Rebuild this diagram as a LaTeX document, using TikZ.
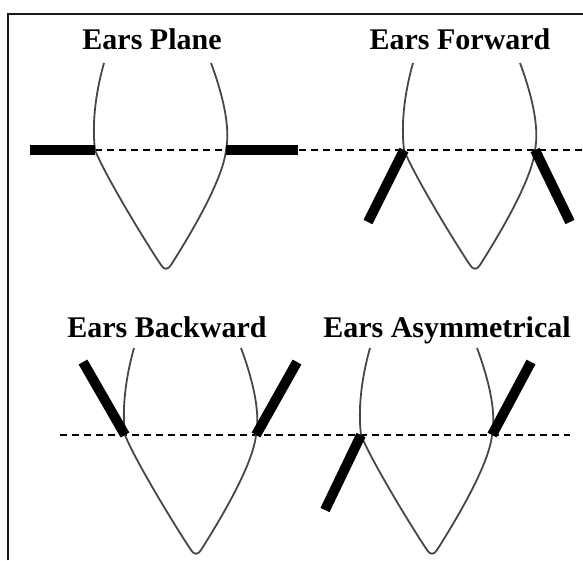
\documentclass[tikz,border=0pt]{standalone}
\usepackage{fontspec}
\setmainfont{Liberation Serif}
\begin{document}
\begin{tikzpicture}[x=1pt,y=-1pt,
  headline/.style={draw=black!72,line width=1.8pt,line join=round},
  ear/.style={line width=10pt,line cap=butt,black},
  midline/.style={line width=1.9pt,black,dash pattern=on 7pt off 5pt},
  frameline/.style={line width=2.2pt,black!90},
  title/.style={font=\bfseries\fontsize{30}{36}\selectfont,anchor=base,inner sep=0pt},
  head/.pic={\draw[headline] (9,-87) .. controls (0,-55) and (-3,-25) .. (0,0)
     .. controls (10,25) and (48,88) .. (66,115)
     .. controls (69,120) and (73,120) .. (76,115)
     .. controls (95,85) and (128,30) .. (131,0)
     .. controls (136,-25) and (126,-60) .. (116,-87);}]
\useasboundingbox (0,0) rectangle (583,560);
% frame
\draw[frameline] (8,560) -- (8,14) -- (583,14);
% titles
\node[title] (t1) at (152,49) {Ears Plane};
\node[title] (t2) at (460,49) {Ears Forward};
\node[title] (t3) at (167,337) {Ears Backward};
\node[title] (t4) at (447,337) {Ears Asymmetrical};
% crossing points
\coordinate (p1L) at (95,150);  \coordinate (p1R) at (226,150);
\coordinate (p2L) at (404,150); \coordinate (p2R) at (535,150);
\coordinate (p3L) at (125,435); \coordinate (p3R) at (256,435);
\coordinate (p4L) at (361,435); \coordinate (p4R) at (492,435);
% ear ends
\coordinate (e1L) at (30,150);  \coordinate (e1R) at (298,150);
\coordinate (e2L) at (368,222); \coordinate (e2R) at (570,222);
\coordinate (e3L) at (83,362);  \coordinate (e3R) at (297,362);
\coordinate (e4L) at (325,510); \coordinate (e4R) at (531,362);
\coordinate (d1) at (583,150);
\coordinate (d3a) at (60,435); \coordinate (d3b) at (570,435);
% dashed lines
\draw[midline] (p1L) -- (d1);
\draw[midline] (d3a) -- (d3b);
% heads
\pic at (p1L) {head};
\pic at (p2L) {head};
\pic at (p3L) {head};
\pic at (p4L) {head};
% ears
\draw[ear] (p1L) -- (e1L);
\draw[ear] (p1R) -- (e1R);
\draw[ear] (p2L) -- (e2L);
\draw[ear] (p2R) -- (e2R);
\draw[ear] (p3L) -- (e3L);
\draw[ear] (p3R) -- (e3R);
\draw[ear] (p4L) -- (e4L);
\draw[ear] (p4R) -- (e4R);
\end{tikzpicture}
\end{document}
